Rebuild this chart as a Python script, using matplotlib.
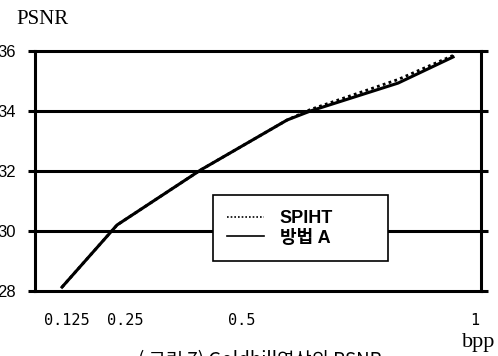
import matplotlib
matplotlib.use("Agg")
import matplotlib.pyplot as plt

# bit rate (bpp) and PSNR (dB)
bpp_a = [0.114, 0.232, 0.411, 0.597, 0.647, 0.835, 0.953]
psnr_a = [28.13, 30.2, 32.03, 33.7, 34.0, 34.93, 35.8]
bpp_spiht = [0.114, 0.232, 0.411, 0.597, 0.647, 0.835, 0.953]
psnr_spiht = [28.13, 30.2, 32.03, 33.7, 34.05, 35.05, 35.85]

x_ticks = [0.125, 0.25, 0.5, 1.0]
x_labels = ["0.125", "0.25", "0.5", "1"]
y_ticks = [28, 30, 32, 34, 36]
y_labels = ["28", "30", "32", "34", "36"]

LW = 2.2
SANS = ["Liberation Sans", "Noto Sans CJK KR"]
KR = ["Noto Sans CJK KR", "DejaVu Sans"]

fig = plt.figure(figsize=(4.98, 3.56), dpi=100)
ax = fig.add_axes([35 / 498, 65 / 356, 446 / 498, 240 / 356])

# horizontal rules
for y in y_ticks[1:-1]:
    ax.axhline(y, color="black", lw=LW, zorder=1)

ax.plot(bpp_spiht, psnr_spiht, color="black", lw=2.0, ls=(0, (1, 1.2)),
        label="SPIHT", zorder=2)
ax.plot(bpp_a, psnr_a, color="black", lw=LW, label="방법 A", zorder=3)

ax.set_xlim(0.056, 1.013)
ax.set_ylim(28, 36)

for side in ["left", "right", "top", "bottom"]:
    ax.spines[side].set_linewidth(LW)
    ax.spines[side].set_color("black")

ax.set_yticks(y_ticks)
ax.set_yticklabels(y_labels, family=SANS, fontsize=12)
ax.tick_params(axis="y", direction="out", length=5, width=LW, pad=9,
               left=True, right=True)
ax.set_xticks(x_ticks)
ax.set_xticklabels(x_labels, family="DejaVu Sans Mono", fontsize=11)
ax.tick_params(axis="x", length=0, pad=16)

leg = ax.legend(loc="lower left", bbox_to_anchor=(0.399, 0.125, 0.392, 0.275),
                mode="expand", fancybox=False, framealpha=1, edgecolor="black",
                handlelength=2.0, handletextpad=0.9, labelspacing=0.15,
                borderpad=0.8, borderaxespad=0,
                prop={"family": SANS, "size": 13, "weight": "bold"})
leg.get_frame().set_linewidth(1.2)
leg.set_zorder(5)
for h in leg.get_lines():
    h.set_linewidth(1.2)

fig.text(16 / 498, 1 - 24 / 356, "PSNR", family="Liberation Serif", fontsize=15)
fig.text(479 / 498, 1 - 347 / 356, "bpp", family="Liberation Serif", fontsize=16,
         ha="center", va="baseline")
fig.text(260 / 498, 1 - 350 / 356, "( 그림 7) Goldhill영상의 PSNR", family=KR,
         fontsize=13.5, ha="center", va="top")

fig.savefig("out.png", dpi=100)
